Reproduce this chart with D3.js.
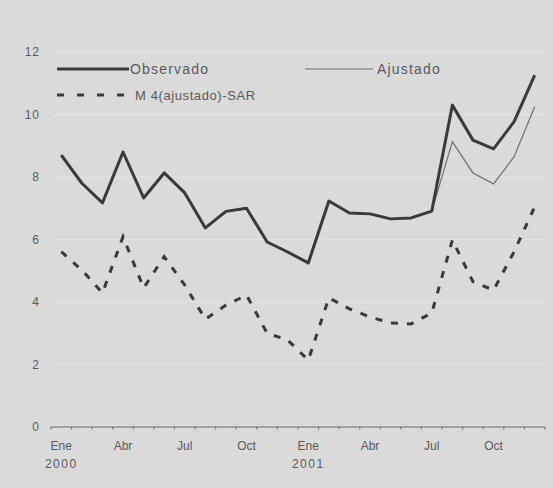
<!DOCTYPE html>
<html>
<head>
<meta charset="utf-8">
<script src="https://cdn.jsdelivr.net/npm/d3@7"></script>
<style>
  body { margin: 0; background: #dadada; }
  svg { display: block; font-family: "Liberation Sans", Arial, sans-serif; }
</style>
</head>
<body>
<svg id="chart" width="553" height="488"></svg>
<script>
const months = ['Ene', 'Feb', 'Mar', 'Abr', 'May', 'Jun', 'Jul', 'Ago', 'Sep', 'Oct', 'Nov', 'Dic',
  'Ene', 'Feb', 'Mar', 'Abr', 'May', 'Jun', 'Jul', 'Ago', 'Sep', 'Oct', 'Nov', 'Dic'];
const shownMonths = [0, 3, 6, 9, 12, 15, 18, 21];
const years = [{ i: 0, label: '2000' }, { i: 12, label: '2001' }];

const observado = [8.7, 7.8, 7.17, 8.8, 7.33, 8.13, 7.49, 6.37, 6.9, 7.0, 5.92, 5.6,
  5.25, 7.23, 6.85, 6.82, 6.66, 6.69, 6.91, 10.3, 9.18, 8.9, 9.77, 11.26];
const ajustado = [8.7, 7.8, 7.17, 8.8, 7.33, 8.13, 7.49, 6.37, 6.9, 7.0, 5.92, 5.6,
  5.25, 7.23, 6.85, 6.82, 6.66, 6.69, 6.91, 9.13, 8.13, 7.78, 8.65, 10.25];
const sar = [5.61, 5.02, 4.29, 6.09, 4.45, 5.45, 4.54, 3.45, 3.9, 4.22, 3.0, 2.78,
  2.14, 4.13, 3.78, 3.52, 3.33, 3.3, 3.65, 5.98, 4.65, 4.38, 5.61, 7.05];
const yTicks = [0, 2, 4, 6, 8, 10, 12];

const svg = d3.select('#chart');
const ink = '#3a3a3a';
const textInk = '#5a5a5a';

const x = d3.scaleBand().domain(d3.range(24)).range([51, 545]);
const y = d3.scaleLinear().domain([0, 12]).range([427, 52]);
const cx = (i) => x(i) + x.bandwidth() / 2;

// faint gridlines
svg.append('g')
  .selectAll('line')
  .data(yTicks.filter((d) => d > 0))
  .join('line')
  .attr('x1', 51)
  .attr('x2', 545)
  .attr('y1', (d) => y(d))
  .attr('y2', (d) => y(d))
  .attr('stroke', '#e2e2e2')
  .attr('stroke-width', 1);

// y labels
svg.append('g')
  .selectAll('text')
  .data(yTicks)
  .join('text')
  .attr('x', 40)
  .attr('y', (d) => y(d))
  .attr('dy', '0.35em')
  .attr('text-anchor', 'end')
  .attr('font-size', 12)
  .attr('letter-spacing', 1)
  .attr('fill', textInk)
  .text((d) => d);

// x axis line + ticks at band edges
const xAxis = svg.append('g');
xAxis.append('line')
  .attr('x1', 51).attr('x2', 545)
  .attr('y1', y(0)).attr('y2', y(0))
  .attr('stroke', '#6a6a6a').attr('stroke-width', 1.2);
xAxis.selectAll('line.tick')
  .data(d3.range(25))
  .join('line')
  .attr('class', 'tick')
  .attr('x1', (i) => 51 + i * x.step())
  .attr('x2', (i) => 51 + i * x.step())
  .attr('y1', y(0))
  .attr('y2', y(0) + 2.5)
  .attr('stroke', '#6a6a6a');
xAxis.selectAll('text.month')
  .data(shownMonths)
  .join('text')
  .attr('class', 'month')
  .attr('x', (i) => cx(i))
  .attr('y', 450)
  .attr('text-anchor', 'middle')
  .attr('font-size', 12)
  .attr('fill', textInk)
  .text((i) => months[i]);
xAxis.selectAll('text.year')
  .data(years)
  .join('text')
  .attr('class', 'year')
  .attr('x', (d) => cx(d.i))
  .attr('y', 468)
  .attr('text-anchor', 'middle')
  .attr('font-size', 12)
  .attr('letter-spacing', 1.5)
  .attr('fill', textInk)
  .text((d) => d.label);

const line = d3.line().x((d, i) => cx(i)).y((d) => y(d));

svg.append('path')
  .datum(ajustado)
  .attr('d', line)
  .attr('fill', 'none')
  .attr('stroke', '#6f6f6f')
  .attr('stroke-width', 1.2);

svg.append('path')
  .datum(observado)
  .attr('d', line)
  .attr('fill', 'none')
  .attr('stroke', ink)
  .attr('stroke-width', 3)
  .attr('stroke-linejoin', 'round');

svg.append('path')
  .datum(sar)
  .attr('d', line)
  .attr('fill', 'none')
  .attr('stroke', ink)
  .attr('stroke-width', 3)
  .attr('stroke-dasharray', '7,9');

// legend
const legend = svg.append('g');
legend.append('line')
  .attr('x1', 57).attr('x2', 129).attr('y1', 69).attr('y2', 69)
  .attr('stroke', ink).attr('stroke-width', 3);
legend.append('text')
  .attr('x', 130).attr('y', 74)
  .attr('font-size', 14).attr('letter-spacing', 1.2).attr('fill', textInk)
  .text('Observado');
legend.append('line')
  .attr('x1', 305).attr('x2', 373).attr('y1', 69).attr('y2', 69)
  .attr('stroke', '#6f6f6f').attr('stroke-width', 1.2);
legend.append('text')
  .attr('x', 377).attr('y', 74)
  .attr('font-size', 14).attr('letter-spacing', 1.2).attr('fill', textInk)
  .text('Ajustado');
legend.append('line')
  .attr('x1', 57).attr('x2', 134).attr('y1', 95).attr('y2', 95)
  .attr('stroke', ink).attr('stroke-width', 3)
  .attr('stroke-dasharray', '7,13');
legend.append('text')
  .attr('x', 135).attr('y', 100)
  .attr('font-size', 13).attr('letter-spacing', 0.6).attr('fill', textInk)
  .text('M 4(ajustado)-SAR');
</script>
</body>
</html>
